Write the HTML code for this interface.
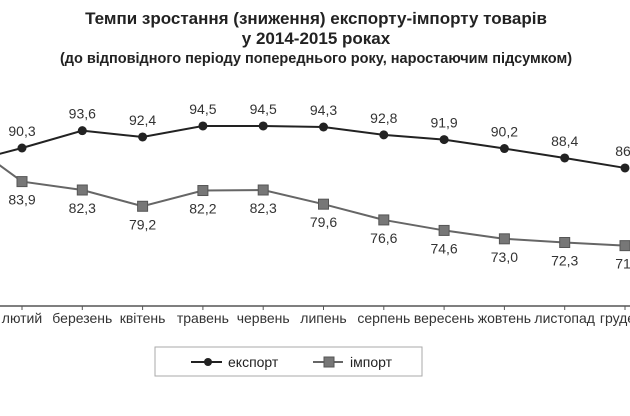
<!DOCTYPE html>
<html><head><meta charset="utf-8"><style>
html,body{margin:0;padding:0;background:#fff;width:630px;height:416px;overflow:hidden}
svg{display:block;font-family:"Liberation Sans","DejaVu Sans",sans-serif}
</style></head><body>
<svg id="chart" width="630" height="416">
<g font-weight="bold" fill="#222" text-anchor="middle">
<text x="316" y="24" font-size="17">Темпи зростання (зниження) експорту-імпорту товарів</text>
<text x="316" y="44" font-size="17">у 2014-2015 роках</text>
<text x="316" y="63" font-size="14.5">(до відповідного періоду попереднього року, наростаючим підсумком)</text>
</g>
<g id="plot"></g>
<g>
<rect x="155" y="347" width="267" height="29" fill="#fff" stroke="#aaa"/>
<g>
<line x1="191" y1="362" x2="222" y2="362" stroke="#222" stroke-width="2"/>
<circle cx="208" cy="362" r="4" fill="#222"/>
<text x="228" y="367" font-size="14" fill="#222">експорт</text></g>
<g>
<line x1="313" y1="362" x2="343" y2="362" stroke="#666" stroke-width="2"/>
<rect x="324" y="357" width="10" height="10" fill="#777" stroke="#555"/>
<text x="350" y="367" font-size="14" fill="#222">імпорт</text></g>
</g>
</svg>
<script>
const months=["січень","лютий","березень","квітень","травень","червень","липень","серпень","вересень","жовтень","листопад","грудень"];
const exportVals=[87.3,90.3,93.6,92.4,94.5,94.5,94.3,92.8,91.9,90.2,88.4,86.5];
const importVals=[92.3,83.9,82.3,79.2,82.2,82.3,79.6,76.6,74.6,73.0,72.3,71.7];
const exportLabels=["","90,3","93,6","92,4","94,5","94,5","94,3","92,8","91,9","90,2","88,4","86,"];
const importLabels=["","83,9","82,3","79,2","82,2","82,3","79,6","76,6","74,6","73,0","72,3","71,"];
const NS="http://www.w3.org/2000/svg";
const plot=document.getElementById('plot');
function x(i){return -38.3+i*60.3;}
function y(v){return 148-(v-90.3)*5.25;}
function mk(tag,attrs,parent){const e=document.createElementNS(NS,tag);for(const k in attrs)e.setAttribute(k,attrs[k]);(parent||plot).appendChild(e);return e;}
const axis=mk('line',{x1:0,y1:306,x2:630,y2:306,stroke:'#555','stroke-width':1.5});


months.forEach((m,i)=>{
 const t=mk('line',{x1:x(i),y1:306,x2:x(i),y2:310,stroke:'#555'});
 
 
 const l=mk('text',{x:x(i),y:323,'font-size':14,fill:'#333','text-anchor':'middle'});
 l.textContent=m;
 
 
});
function series(vals,labels,color,isExport){
 const p=mk('polyline',{points:vals.map((v,i)=>x(i)+','+y(v)).join(' '),fill:'none',stroke:color,'stroke-width':2});
 
 
 vals.forEach((v,i)=>{
  let m;
  if(isExport)m=mk('circle',{cx:x(i),cy:y(v),r:4.5,fill:'#222'});
  else m=mk('rect',{x:x(i)-5,y:y(v)-5,width:10,height:10,fill:'#777',stroke:'#555'});
  
  
  if(labels[i]){
   const t=mk('text',{x:x(i),y:isExport?y(v)-12:y(v)+23,'font-size':14,fill:'#333','text-anchor':'middle'});
   t.textContent=labels[i];
   
   
  }
 });
}
series(importVals,importLabels,'#666',false);
series(exportVals,exportLabels,'#222',true);
</script>
</body></html>
